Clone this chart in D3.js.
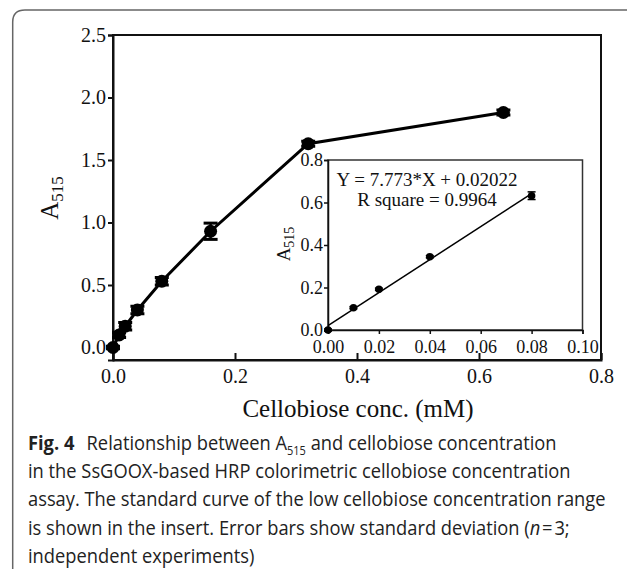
<!DOCTYPE html>
<html lang="en">
<head>
<meta charset="utf-8">
<title>Fig 4</title>
<style>
body{ margin:0; background:#fff; }
.serif{ font-family:"Liberation Serif","Times New Roman",serif; fill:#111; }
.cap{ font-family:"Open Sans","Noto Sans",sans-serif; fill:#222; }
</style>
</head>
<body>
<script src="https://cdn.jsdelivr.net/npm/d3@7/dist/d3.min.js"></script>
<script>

// main curve
var conc = [0, 0.01, 0.02, 0.04, 0.08, 0.16, 0.32, 0.64];
var absorb = [0, 0.10, 0.17, 0.30, 0.53, 0.93, 1.63, 1.88];
var absorbSd = [0.01, 0.02, 0.03, 0.03, 0.03, 0.065, 0.02, 0.02];
var xTicks = [0, 0.2, 0.4, 0.6, 0.8];
var yTicks = [0, 0.5, 1.0, 1.5, 2.0, 2.5];

// insert (low range)
var lowConc = [0, 0.01, 0.02, 0.04, 0.08];
var lowAbsorb = [0.0, 0.105, 0.192, 0.345, 0.632];
var lowSd = [0.005, 0.005, 0.005, 0.005, 0.018];
var lowXTicks = [0, 0.02, 0.04, 0.06, 0.08, 0.10];
var lowYTicks = [0, 0.2, 0.4, 0.6, 0.8];
var slope = 7.773, intercept = 0.02022;
var fitText = ["Y = 7.773*X + 0.02022", "R square = 0.9964"];

var captionLines = [
  "Relationship between A|515| and cellobiose concentration",
  "in the SsGOOX-based HRP colorimetric cellobiose concentration",
  "assay. The standard curve of the low cellobiose concentration range",
  "is shown in the insert. Error bars show standard deviation (",
  "independent experiments)"
];

var w = 627, h = 569;
var svg = d3.select("body").append("svg").attr("width", w).attr("height", h);

// outer rounded frame
svg.append("path")
  .attr("d", "M12.7,569 L12.7,22 Q12.7,10 25,10 L627,10")
  .attr("fill", "none").attr("stroke", "#666").attr("stroke-width", 1.5);

/*
 * main chart
 */
var x = d3.scaleLinear().domain([0, 0.8]).range([113, 601]);
var y = d3.scaleLinear().domain([-0.1, 2.5]).range([360, 35]);

var main = svg.append("g");
main.append("rect")
  .attr("x", x(0)).attr("y", y(2.5))
  .attr("width", x(0.8) - x(0)).attr("height", y(-0.1) - y(2.5))
  .attr("fill", "none").attr("stroke", "#111").attr("stroke-width", 2);

var yAxis = d3.axisLeft(y).tickValues(yTicks).tickFormat(d3.format(".1f")).tickSize(5).tickPadding(2);
var yg = main.append("g").attr("transform", "translate(" + x(0) + ",0)").call(yAxis);
var xAxis = d3.axisBottom(x).tickValues(xTicks).tickFormat(d3.format(".1f")).tickSize(-7).tickPadding(12);
var xg = main.append("g").attr("transform", "translate(0," + y(-0.1) + ")").call(xAxis);
[yg, xg].forEach(function(g){
  g.select(".domain").attr("stroke", "#111").attr("stroke-width", 2);
  g.selectAll(".tick line").attr("stroke", "#111").attr("stroke-width", 2);
  g.selectAll(".tick text").attr("class", "serif").attr("font-size", "20px").attr("fill", "#111");
});
xg.selectAll(".tick text").attr("dy", "0.55em");

var pts = conc.map(function(c, i){ return {x:c, y:absorb[i], sd:absorbSd[i]}; });

main.append("path")
  .datum(pts)
  .attr("d", d3.line().x(function(d){return x(d.x)}).y(function(d){return y(d.y)}))
  .attr("fill", "none").attr("stroke", "#000").attr("stroke-width", 3);

var eb = main.selectAll("g.eb").data(pts).enter().append("g").attr("class", "eb");
eb.append("line")
  .attr("x1", function(d){return x(d.x)}).attr("x2", function(d){return x(d.x)})
  .attr("y1", function(d){return y(d.y - d.sd)}).attr("y2", function(d){return y(d.y + d.sd)})
  .attr("stroke", "#000").attr("stroke-width", 2.5);
[-1, 1].forEach(function(s){
  eb.append("line")
    .attr("x1", function(d){return x(d.x) - 7}).attr("x2", function(d){return x(d.x) + 7})
    .attr("y1", function(d){return y(d.y + s * d.sd)}).attr("y2", function(d){return y(d.y + s * d.sd)})
    .attr("stroke", "#000").attr("stroke-width", 3);
});
eb.append("circle")
  .attr("cx", function(d){return x(d.x)}).attr("cy", function(d){return y(d.y)})
  .attr("r", 6.5).attr("fill", "#000");

// axis titles
main.append("text").attr("class", "serif")
  .attr("x", (x(0) + x(0.8)) / 2 + 1).attr("y", 417)
  .attr("text-anchor", "middle").attr("font-size", "25px")
  .text("Cellobiose conc. (mM)");

var yl = main.append("text").attr("class", "serif")
  .attr("transform", "translate(58,198) rotate(-90)")
  .attr("text-anchor", "middle").attr("font-size", "25px");
yl.append("tspan").text("A");
yl.append("tspan").attr("font-size", "17px").attr("dy", "5").text("515");

/*
 * insert chart
 */
var ix = d3.scaleLinear().domain([0, 0.1]).range([328, 582.5]);
var iy = d3.scaleLinear().domain([0, 0.8]).range([330, 160]);

var ins = svg.append("g");
ins.append("rect")
  .attr("x", ix(0)).attr("y", iy(0.8))
  .attr("width", ix(0.1) - ix(0)).attr("height", iy(0) - iy(0.8))
  .attr("fill", "#fff").attr("stroke", "#333").attr("stroke-width", 1.5);

var iyAxis = d3.axisLeft(iy).tickValues(lowYTicks).tickFormat(d3.format(".1f")).tickSize(4).tickPadding(1);
var iyg = ins.append("g").attr("transform", "translate(" + ix(0) + ",0)").call(iyAxis);
var ixAxis = d3.axisBottom(ix).tickValues(lowXTicks).tickFormat(d3.format(".2f")).tickSize(4).tickPadding(6);
var ixg = ins.append("g").attr("transform", "translate(0," + iy(0) + ")").call(ixAxis);
[iyg, ixg].forEach(function(g){
  g.select(".domain").attr("stroke", "#111").attr("stroke-width", 1.5);
  g.selectAll(".tick line").attr("stroke", "#111").attr("stroke-width", 1.5);
  g.selectAll(".tick text").attr("class", "serif").attr("font-size", "18px").attr("fill", "#222");
});

// fit line
ins.append("line")
  .attr("x1", ix(0)).attr("y1", iy(intercept))
  .attr("x2", ix(0.08)).attr("y2", iy(slope * 0.08 + intercept))
  .attr("stroke", "#000").attr("stroke-width", 1.5);

var lowPts = lowConc.map(function(c, i){ return {x:c, y:lowAbsorb[i], sd:lowSd[i]}; });
var ieb = ins.selectAll("g.ieb").data(lowPts).enter().append("g").attr("class", "ieb");
ieb.append("line")
  .attr("x1", function(d){return ix(d.x)}).attr("x2", function(d){return ix(d.x)})
  .attr("y1", function(d){return iy(d.y - d.sd)}).attr("y2", function(d){return iy(d.y + d.sd)})
  .attr("stroke", "#000").attr("stroke-width", 1.5);
[-1, 1].forEach(function(s){
  ieb.append("line")
    .attr("x1", function(d){return ix(d.x) - 4}).attr("x2", function(d){return ix(d.x) + 4})
    .attr("y1", function(d){return iy(d.y + s * d.sd)}).attr("y2", function(d){return iy(d.y + s * d.sd)})
    .attr("stroke", "#000").attr("stroke-width", 1.5);
});
ieb.append("circle")
  .attr("cx", function(d){return ix(d.x)}).attr("cy", function(d){return iy(d.y)})
  .attr("r", 3.8).attr("fill", "#000");

ins.selectAll("text.fit").data(fitText).enter().append("text")
  .attr("class", "serif fit")
  .attr("x", 427).attr("y", function(d, i){return 186 + i * 20})
  .attr("text-anchor", "middle").attr("font-size", "19px")
  .text(function(d){return d});

var iyl = ins.append("text").attr("class", "serif")
  .attr("transform", "translate(290,244) rotate(-90)")
  .attr("text-anchor", "middle").attr("font-size", "19px").attr("fill", "#222");
iyl.append("tspan").text("A");
iyl.append("tspan").attr("font-size", "14px").attr("dy", "4").text("515");

/*
 * caption
 */
var cap = svg.append("g").attr("class", "cap");
var capText = [];
captionLines.forEach(function(line, i){
  var t = cap.append("text").attr("x", 0).attr("y", 450 + i * 28.2).attr("font-size", "20px");
  if(i == 0){
    t.append("tspan").attr("font-weight", "bold").text("Fig. 4");
    t.append("tspan").text("\u2002\u2009");
  }
  var parts = line.split("|");
  parts.forEach(function(p, j){
    if(j == 1){
      t.append("tspan").attr("font-size", "12px").attr("dy", "5").text(p);
    }else if(j == 2){
      t.append("tspan").attr("dy", "-5").text(p);
    }else{
      t.append("tspan").text(p);
    }
  });
  if(i == 3){
    t.append("tspan").attr("font-style", "italic").text("n");
    t.append("tspan").text("\u200a=\u200a3;");
  }
  capText.push(t);
});
// squeeze to the original narrow face
var full = capText[2].node().getComputedTextLength();
var sx = 578 / full;
cap.attr("transform", "translate(28,0) scale(" + sx + ",1)");

</script>
</body>
</html>
